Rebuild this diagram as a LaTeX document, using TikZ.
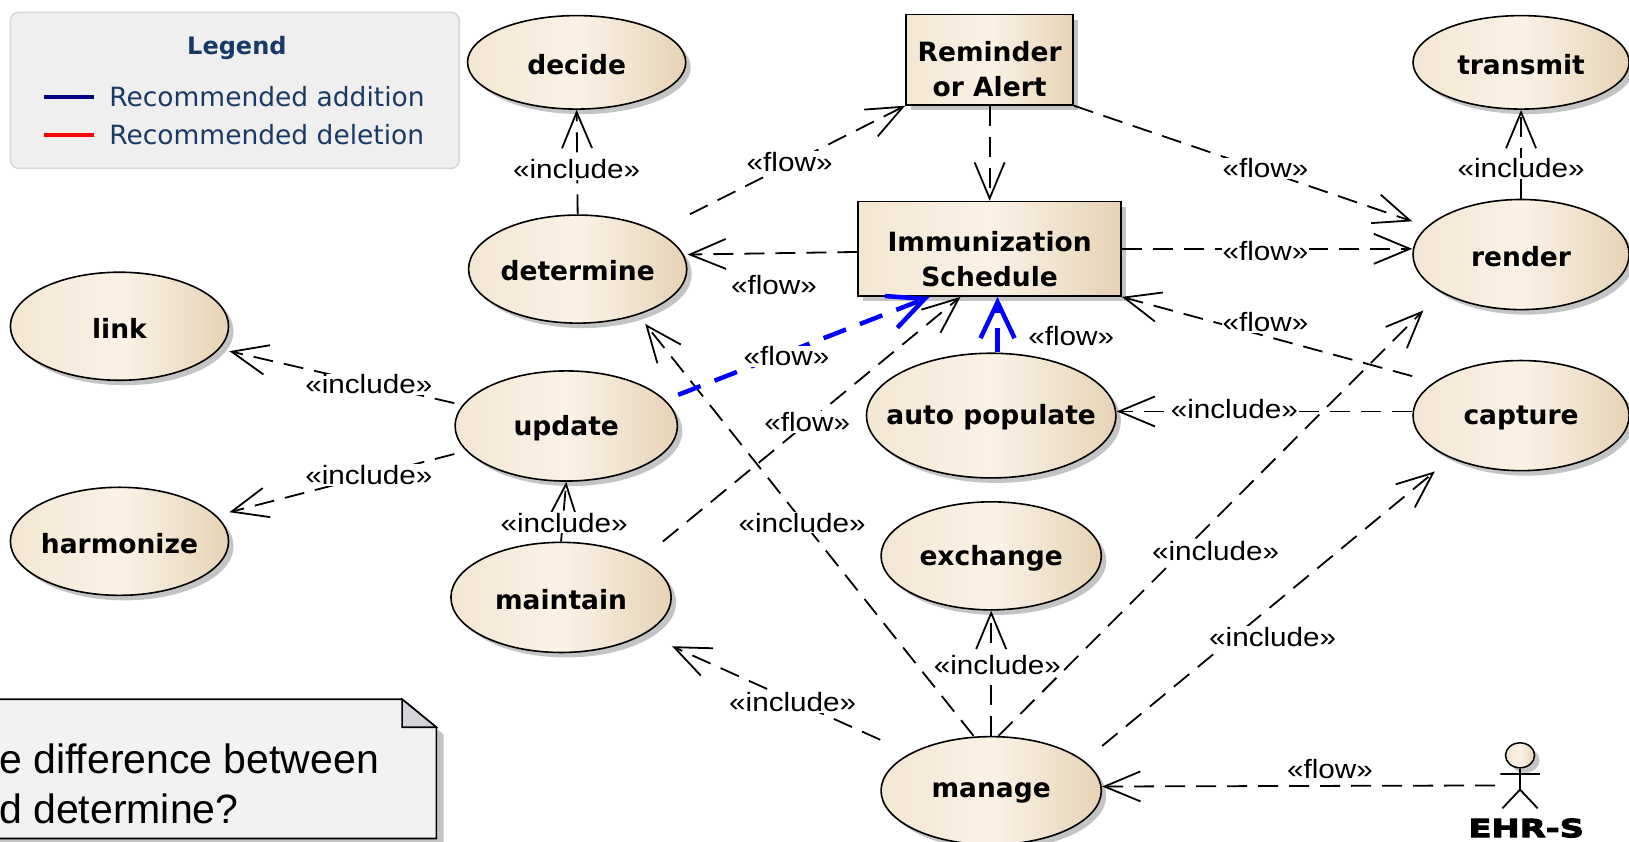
\documentclass[tikz,border=0pt]{standalone}
\usepackage{fontspec}
\setmainfont{Liberation Sans}
\newfontfamily\ucfont{DejaVu Sans}
\newfontfamily\legfont{DejaVu Sans}
\newfontfamily\lblfont{Liberation Sans}[FakeStretch=1.12]
\newfontfamily\actfont{DejaVu Sans Bold}[FakeStretch=1.35,FakeBold=4]
\usetikzlibrary{arrows.meta,shadows,calc,shapes.geometric}
\definecolor{ucL}{HTML}{F3E6D2}
\definecolor{ucM}{HTML}{FBF2E6}
\definecolor{ucR}{HTML}{E6D3B6}
\definecolor{shd}{HTML}{C4C4C4}
\definecolor{legtxt}{HTML}{1A3A66}
\definecolor{legbg}{HTML}{EFEFEF}
\definecolor{legbd}{HTML}{D6D6D6}
\definecolor{navyc}{HTML}{000080}
\definecolor{addblue}{HTML}{0000FF}
\definecolor{notebg}{HTML}{F4F1F5}
\definecolor{notefold}{HTML}{D6D3D9}
\newcommand\uct[1]{\makebox[0pt]{\raisebox{-2pt}[\height][\depth]{#1}}}
\tikzset{
  ucshade/.style={left color=ucL, right color=ucR, middle color=ucM},
  shad/.style={drop shadow={shadow xshift=5pt, shadow yshift=-5pt, fill=shd, opacity=1}},
  uc/.style 2 args={ellipse, draw=black, line width=1.6pt, ucshade, shad,
    minimum width=1.039*#1pt, minimum height=1.039*#2pt, inner sep=0pt,
    font=\ucfont\bfseries\fontsize{26.5}{30}\selectfont},
  box/.style 2 args={rectangle, draw=black, line width=1.6pt, ucshade, shad,
    minimum width=1.039*#1pt, minimum height=1.039*#2pt, inner sep=0pt},
  boxtext/.style={align=center, inner sep=0pt,
    font=\ucfont\bfseries\fontsize{26.5}{35}\selectfont},
  lbl/.style={fill=white, inner sep=1pt, font=\lblfont\fontsize{26.5}{30}\selectfont},
  dep/.style={draw=black, line width=1.8pt, dash pattern=on 20pt off 11pt,
    -{Straight Barb[length=36pt,width=30pt]}},
  addc/.style={draw=addblue, line width=4.5pt, dash pattern=on 24pt off 15pt,
    -{Straight Barb[length=36pt,width=34pt]}},
}
\begin{document}
\begin{tikzpicture}[x=1.039pt,y=-1.039pt]
\useasboundingbox (0,0) rectangle (1567.9,810.4);

% legend
\node[draw=legbd, fill=legbg, rounded corners=8pt, line width=1.5pt,
  minimum width=1.039*432pt, minimum height=1.039*150pt] (legend) at (226,87) {};
\node[text=legtxt, font=\legfont\bfseries\fontsize{24}{28}\selectfont] (legtitle) at (228,46) {Legend};
\coordinate (la1) at (42,93); \coordinate (la2) at (90,93);
\coordinate (ld1) at (42,130); \coordinate (ld2) at (90,130);
\draw[navyc, line width=4pt] (la1) -- (la2);
\draw[red, line width=4pt] (ld1) -- (ld2);
\node[anchor=west, inner sep=0pt, text=legtxt, font=\legfont\fontsize{26.5}{30}\selectfont] (leg1) at (105,93) {Recommended addition};
\node[anchor=west, inner sep=0pt, text=legtxt, font=\legfont\fontsize{26.5}{30}\selectfont] (leg2) at (105,130) {Recommended deletion};

% note
\fill[shd] (-10,680) -- (394,680) -- (427,707) -- (427,815) -- (-10,815) -- cycle;
\draw[line width=1.6pt, fill=notebg] (-10,673) -- (387,673) -- (420,700) -- (420,807) -- (-10,807) -- cycle;
\draw[line width=1.6pt, fill=notefold] (387,673) -- (387,700) -- (420,700) -- cycle;
\node[anchor=west, align=left, inner sep=0pt, font=\fontsize{41}{50}\selectfont] (note) at (-1,754) {e difference between\\d determine?};

% use cases
\node[uc={210}{90}] (decide) at (555,60) {\uct{decide}};
\node[uc={208}{90}] (transmit) at (1464,60) {\uct{transmit}};
\node[uc={210}{104}] (determine) at (556,259) {\uct{determine}};
\node[uc={210}{104}] (link) at (115,314) {\uct{link}};
\node[uc={214}{106}] (update) at (545,410) {\uct{update}};
\node[uc={210}{104}] (harmonize) at (115,521) {\uct{harmonize}};
\node[uc={212}{106}] (maintain) at (540,575) {\uct{maintain}};
\node[uc={208}{106}] (render) at (1464,245) {\uct{render}};
\node[uc={240}{120}] (autopop) at (954,400) {\uct{auto populate}};
\node[uc={208}{106}] (capture) at (1464,400) {\uct{capture}};
\node[uc={212}{104}] (exchange) at (954,535) {\uct{exchange}};
\node[uc={212}{104}] (manage) at (954,761) {\uct{manage}};

% boxes
\node[box={161}{87}] (reminder) at (952.5,57.5) {};
\node[boxtext] (remtxt) at (952.5,67) {Reminder\\or Alert};
\node[box={253}{91}] (imm) at (952.5,239.5) {};
\node[boxtext] (immtxt) at (952.5,249) {Immunization\\Schedule};

% actor
\node[ellipse, draw=black, line width=1.5pt, ucshade, shad, minimum width=1.039*28pt,
  minimum height=1.039*24pt, inner sep=0pt] (head) at (1463,727) {};
\coordinate (hip) at (1463,760);
\coordinate (armL) at (1444,745); \coordinate (armR) at (1482,745);
\coordinate (legL) at (1446,778); \coordinate (legR) at (1480,778);
\draw[line width=1.8pt] (head.south) -- (hip) (armL) -- (armR) (legL) -- (hip) -- (legR);
\node[font=\actfont\fontsize{25}{28}\selectfont, inner sep=0pt] (ehrs) at (1469,797) {EHR-S};
\coordinate (ehr) at (1439,756);

% connectors (ending on the elements' bounding boxes)
\coordinate (immA) at ($(imm.south west)!0.273!(imm.south east)$);
\coordinate (immB) at ($(imm.south west)!0.53!(imm.south east)$);
\coordinate (immC) at ($(imm.south west)!0.39!(imm.south east)$);
\draw[dep] (determine.north) -- (decide.south);
\draw[dep] (render.north) -- (transmit.south);
\draw[dep] ($(determine.north)+(108,0)$) -- (reminder.south west);
\draw[dep] (reminder.south) -- (imm.north);
\draw[dep] (reminder.south east) -- ($(render.west)+(0,-32)$);
\draw[dep] ($(imm.west)+(0,3)$) -- ($(determine.east)+(0,-14)$);
\draw[dep] (imm.east) -- (imm.east -| render.west);
\draw[dep] ($(capture.west)+(0,-38)$) -- (imm.south east);
\draw[dep] ($(maintain.north)+(98,0)$) -- (immC);
\draw[dep] ($(capture.west)+(0,-4)$) -- ($(autopop.east)+(0,-4)$);
\draw[dep] ($(update.west)+(0,-22)$) -- ($(link.east)+(0,24)$);
\draw[dep] ($(update.west)+(0,27)$) -- ($(harmonize.east)+(0,-28)$);
\draw[dep] (maintain.north) -- (update.south);
\draw[dep] ($(manage.north)+(-17,0)$) -- ($(determine.south)+(65,0)$);
\draw[dep] ($(manage.west)+(0,-49)$) -- ($(maintain.east)+(0,47)$);
\draw[dep] (manage.north) -- (exchange.south);
\draw[dep] ($(manage.north)+(7,0)$) -- ($(render.south)+(-94,0)$);
\draw[dep] ($(manage.east)+(0,-43)$) -- ($(capture.south)+(-83,0)$);
\draw[dep] (ehr) -- ($(manage.east)+(0,-4)$);
\draw[addc] ($(update.east)+(0,-30)$) -- (immA);
\draw[addc] (autopop.north -| immB) -- (immB);

% labels
\node[lbl] (t1) at (555,163) {«include»};
\node[lbl] (t3) at (1464,162) {«include»};
\node[lbl] (t2) at (760,156) {«flow»};
\node[lbl] (t4) at (1218,162) {«flow»};
\node[lbl] (t5) at (745,274) {«flow»};
\node[lbl] (t6) at (1218,242) {«flow»};
\node[lbl] (t7) at (1218,310) {«flow»};
\node[lbl] (t8) at (757,343) {«flow»};
\node[lbl] (t9) at (777,406) {«flow»};
\node[lbl] (t10) at (1031,323) {«flow»};
\node[lbl] (t11) at (1188,394) {«include»};
\node[lbl] (t12) at (355,370) {«include»};
\node[lbl] (t13) at (355,457) {«include»};
\node[lbl] (t14) at (543,503) {«include»};
\node[lbl] (t15) at (772,503) {«include»};
\node[lbl] (t16) at (763,676) {«include»};
\node[lbl] (t17) at (960,640) {«include»};
\node[lbl] (t18) at (1170,530) {«include»};
\node[lbl] (t19) at (1225,613) {«include»};
\node[lbl] (t20) at (1280,740) {«flow»};
\end{tikzpicture}
\end{document}
